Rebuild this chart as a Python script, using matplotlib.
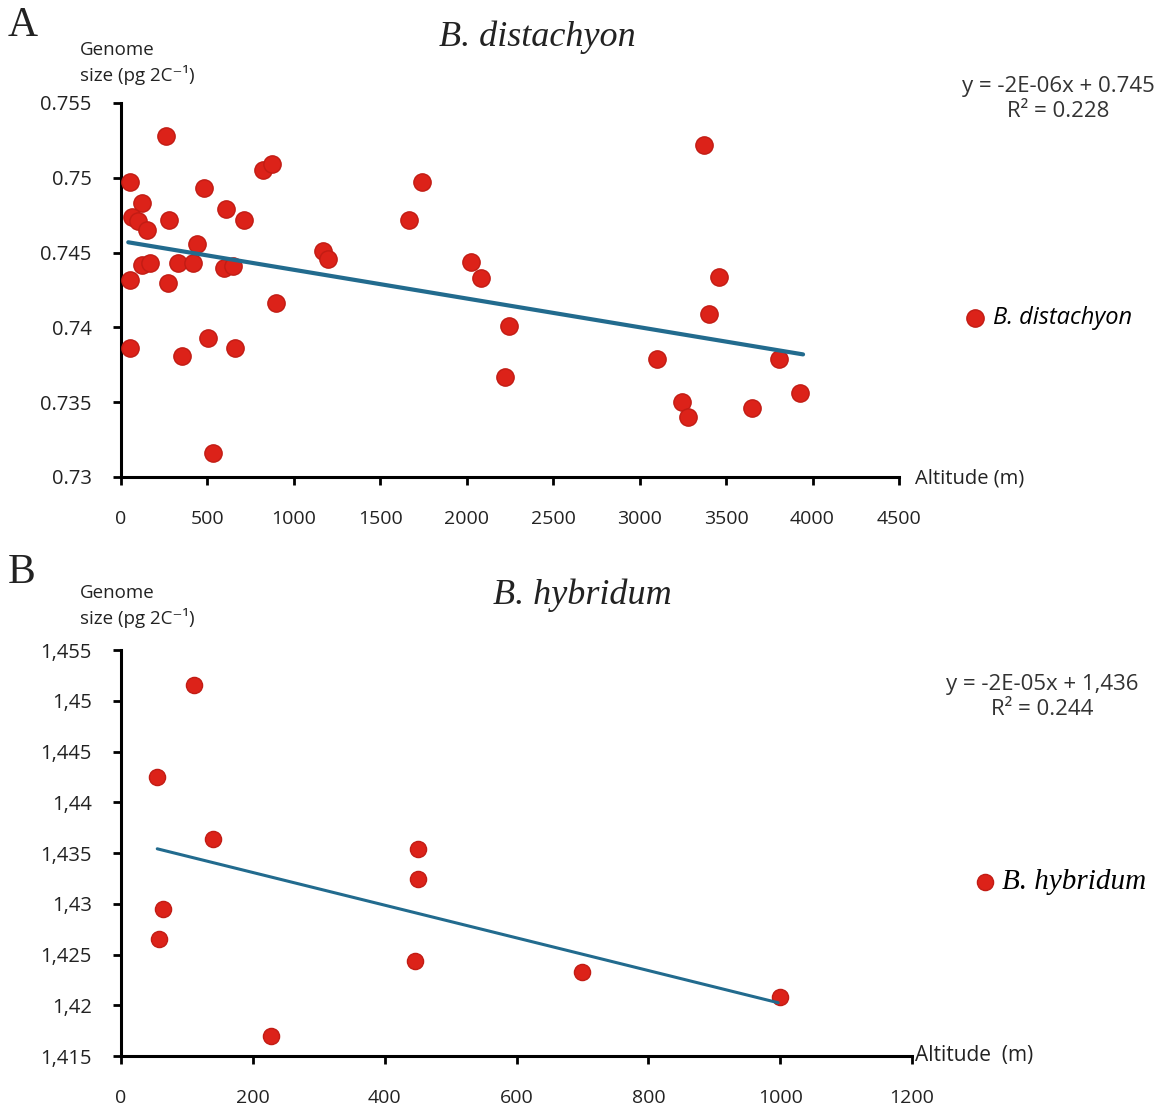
import matplotlib
matplotlib.use("Agg")
import matplotlib.pyplot as plt
import numpy as np

# Panel A - B. distachyon (altitude in m, genome size in pg 2C-1)
alt_a = [52, 120, 62, 100, 149, 275, 260, 480, 606, 712, 824, 872, 1740, 1668,
         442, 120, 168, 52, 332, 418, 274, 596, 650, 1167, 1200, 895, 52, 351,
         505, 660, 530, 2024, 2083, 2247, 2222, 3375, 3461, 3399, 3100, 3245,
         3277, 3804, 3929, 3650]
gs_a = [0.7497, 0.7483, 0.7474, 0.7471, 0.7465, 0.7472, 0.7528, 0.7493, 0.7479,
        0.7472, 0.7505, 0.7509, 0.7497, 0.7472, 0.7456, 0.7442, 0.7443, 0.7432,
        0.7443, 0.7443, 0.7430, 0.7440, 0.7441, 0.7451, 0.7446, 0.7416, 0.7386,
        0.7381, 0.7393, 0.7386, 0.7316, 0.7444, 0.7433, 0.7401, 0.7367, 0.7522,
        0.7434, 0.7409, 0.7379, 0.7350, 0.7340, 0.7379, 0.7356, 0.7346]
fit_a = (-1.92e-6, 0.74577)      # slope, intercept
fit_a_span = (42, 3945)
xticks_a = [0, 500, 1000, 1500, 2000, 2500, 3000, 3500, 4000, 4500]
yticks_a = [0.73, 0.735, 0.74, 0.745, 0.75, 0.755]
ylabels_a = ["0.73", "0.735", "0.74", "0.745", "0.75", "0.755"]
eq_a = "y = -2E-06x + 0.745\nR² = 0.228"

# Panel B - B. hybridum
alt_b = [110, 55, 140, 64, 58, 451, 451, 446, 227, 700, 1000]
gs_b = [1.4516, 1.4425, 1.4364, 1.4295, 1.4265, 1.4354, 1.4324, 1.4244, 1.4170,
        1.4233, 1.4208]
fit_b = (-1.61e-5, 1.4363)
fit_b_span = (55, 997)
xticks_b = [0, 200, 400, 600, 800, 1000, 1200]
yticks_b = [1.415, 1.42, 1.425, 1.43, 1.435, 1.44, 1.445, 1.45, 1.455]
ylabels_b = ["1,415", "1,42", "1,425", "1,43", "1,435", "1,44", "1,445", "1,45", "1,455"]
eq_b = "y = -2E-05x + 1,436\nR² = 0.244"

W, H = 1166, 1107
SANS = ["Open Sans", "DejaVu Sans"]
NARROW = ["Liberation Sans Narrow", "Open Sans", "DejaVu Sans"]
SERIF = ["Liberation Serif", "DejaVu Serif"]
DOT = "#dc2219"
DOT_EDGE = "#c21c14"
LINE = "#226b8e"
TXT = "#222222"


def fx(px):
    return px / W


def fy(py):
    return 1 - py / H


def style_axes(ax, xticks, yticks, ylabels):
    for s in ["top", "right"]:
        ax.spines[s].set_visible(False)
    for s in ["left", "bottom"]:
        ax.spines[s].set_linewidth(2.2)
        ax.spines[s].set_color("black")
    ax.set_xticks(xticks)
    ax.set_xticklabels([str(t) for t in xticks], family=NARROW, fontsize=14, color=TXT)
    ax.set_yticks(yticks)
    ax.set_yticklabels(ylabels, family=SANS, fontsize=14.5, color=TXT)
    ax.tick_params(axis="both", direction="out", length=6, width=2)
    ax.tick_params(axis="y", pad=15)
    ax.tick_params(axis="x", pad=18)
    ax.set_xlim(xticks[0], xticks[-1])
    ax.set_ylim(yticks[0], yticks[-1])


def panel(fig, rect, alt, gs, fit, span, xticks, yticks, ylabels, msize, lw):
    ax = fig.add_axes(rect)
    sc = ax.scatter(alt, gs, s=msize, c=DOT, edgecolors=DOT_EDGE, linewidths=1, zorder=3)
    xs = np.array(span)
    ax.plot(xs, fit[0] * xs + fit[1], color=LINE, lw=lw, zorder=4, solid_capstyle="round")
    style_axes(ax, xticks, yticks, ylabels)
    return ax, sc


def main():
    fig = plt.figure(figsize=(W / 100, H / 100), dpi=100)

    # panel A
    rect_a = [fx(121), fy(477), fx(899) - fx(121), (477 - 103) / H]
    ax_a, sc_a = panel(fig, rect_a, alt_a, gs_a, fit_a, fit_a_span,
                       xticks_a, yticks_a, ylabels_a, 155, 3.0)
    ax_a.legend([sc_a], ["B. distachyon"], loc="center left",
                bbox_to_anchor=(fx(963), fy(318)), bbox_transform=fig.transFigure,
                frameon=False, handlelength=1.0, handletextpad=0.27, borderpad=0,
                borderaxespad=0,
                prop={"family": SANS, "style": "italic", "size": 17})

    # panel B
    rect_b = [fx(121), fy(1056), fx(912) - fx(121), (1056 - 650) / H]
    ax_b, sc_b = panel(fig, rect_b, alt_b, gs_b, fit_b, fit_b_span,
                       xticks_b, yticks_b, ylabels_b, 135, 2.2)
    ax_b.legend([sc_b], ["B. hybridum"], loc="center left",
                bbox_to_anchor=(fx(970), fy(882)), bbox_transform=fig.transFigure,
                frameon=False, handlelength=1.0, handletextpad=0.1, borderpad=0,
                borderaxespad=0,
                prop={"family": SERIF, "style": "italic", "size": 21})

    # panel letters and titles
    fig.text(fx(8), fy(26), "A", family=SERIF, fontsize=30, va="center", ha="left", color=TXT)
    fig.text(fx(8), fy(573), "B", family=SERIF, fontsize=30, va="center", ha="left", color=TXT)
    fig.text(fx(537), fy(37), "B. distachyon", family=SERIF, style="italic",
             fontsize=26, ha="center", va="center", color=TXT)
    fig.text(fx(582), fy(595), "B. hybridum", family=SERIF, style="italic",
             fontsize=26, ha="center", va="center", color=TXT)

    # axis titles
    for y0 in (50, 593):
        fig.text(fx(80), fy(y0), "Genome", family=SANS, fontsize=13.5,
                 ha="left", va="center", color=TXT)
        fig.text(fx(80), fy(y0 + 25), "size (pg 2C⁻¹)", family=SANS, fontsize=13.5,
                 ha="left", va="center", color=TXT)
    fig.text(fx(915), fy(478), "Altitude (m)", family=NARROW, fontsize=14.5,
             ha="left", va="center", color=TXT)
    fig.text(fx(915), fy(1055), "Altitude  (m)", family=NARROW, fontsize=15,
             ha="left", va="center", color=TXT)

    # regression equations
    fig.text(fx(1058), fy(99), eq_a, family=SANS, fontsize=16, ha="center",
             va="center", color="#333333", linespacing=1.25)
    fig.text(fx(1042), fy(697), eq_b, family=SANS, fontsize=16, ha="center",
             va="center", color="#333333", linespacing=1.25)

    fig.savefig("out.png", dpi=100)


if __name__ == '__main__':
    main()
